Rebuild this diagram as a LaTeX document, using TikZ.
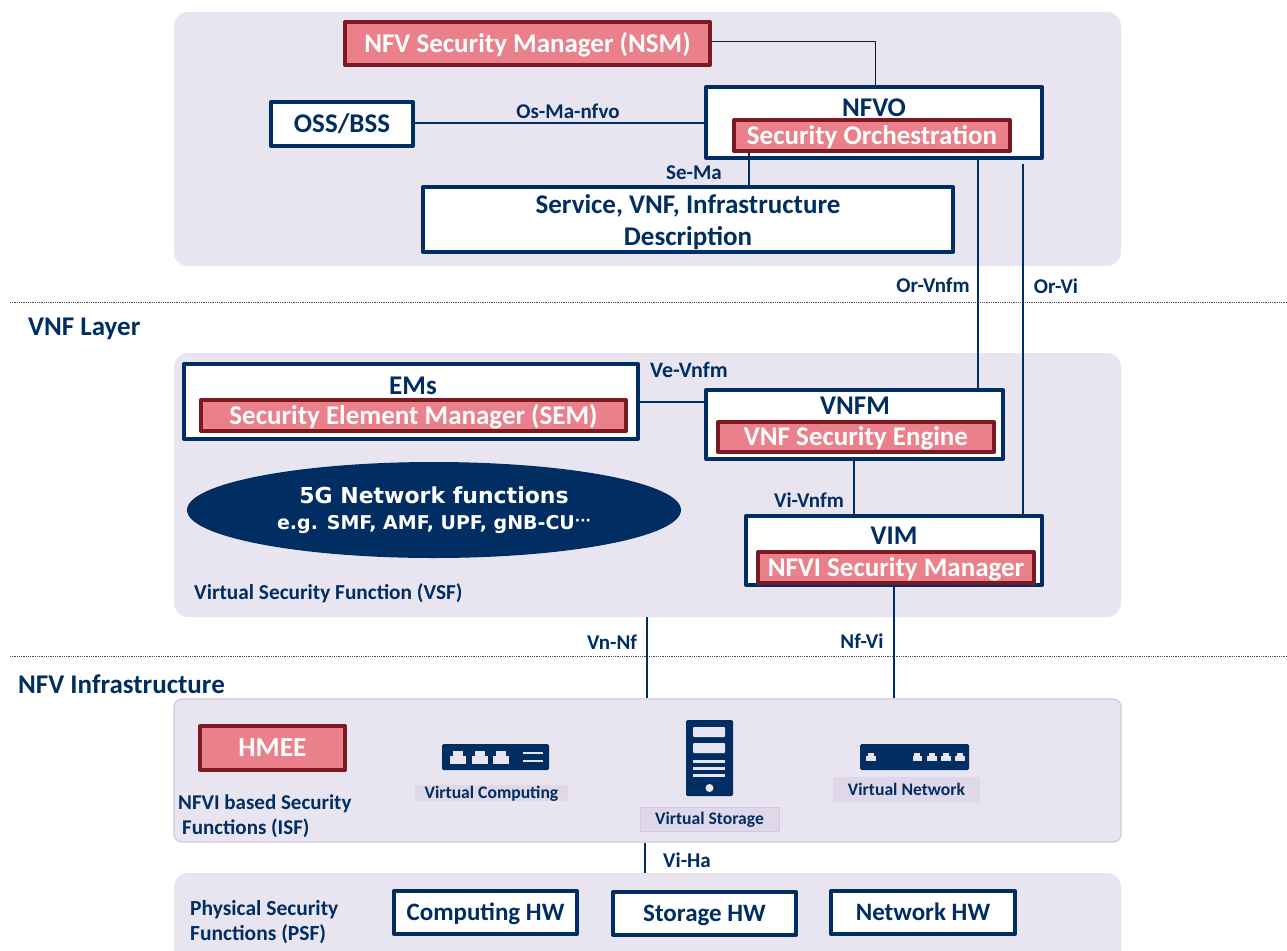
\documentclass[tikz,border=0pt]{standalone}
\usepackage{fontspec}
\setmainfont{Carlito}
\newfontfamily\dejavu{DejaVu Sans}
\usetikzlibrary{shapes.geometric,calc}
\definecolor{navy}{RGB}{0,45,98}
\definecolor{panelc}{RGB}{233,229,240}
\definecolor{panelb}{RGB}{210,200,225}
\definecolor{pinkc}{RGB}{233,128,138}
\definecolor{darkred}{RGB}{123,26,34}
\definecolor{tagc}{RGB}{223,216,232}
\newcommand{\fs}[1]{\fontsize{#1}{#1}\selectfont\bfseries}
\tikzset{
  x=1pt,y=-1pt,
  panel/.style={fill=panelc,rounded corners=14pt},
  navybox/.style={draw=navy,line width=4pt,line join=round,fill=white,text=navy,inner sep=0pt,align=center},
  redbox/.style={draw=darkred,line width=4pt,line join=round,fill=pinkc,text=white,inner sep=0pt,align=center},
  capc/.style={font=\fs{#1},text height=.64*#1 pt,text depth=0pt},
  title/.style={text=navy,inner sep=0pt,font=\fs{27},text height=17pt,text depth=0pt},
  conn/.style={draw=navy,line width=1.4pt},
  lab/.style={text=navy,font=\fs{21},inner sep=0pt},
  head/.style={text=navy,font=\fs{27},inner sep=0pt},
  tag/.style={fill=tagc,text=navy,font=\fs{17.6},inner sep=0pt,text height=11pt,text depth=0pt},
  icon/.style={fill=navy,rounded corners=1.5pt},
  sep/.style={densely dotted,line width=.8pt,draw=black!70},
}
% #1 name, #2 style, #3 x0, #4 y0, #5 x1, #6 y1, #7 text  (outer bounds)
\newcommand{\bx}[7]{\node[#2,minimum width=#5pt-#3pt-4pt,minimum height=#6pt-#4pt-4pt] (#1) at ({(#3+#5)/2},{(#4+#6)/2}) {#7};}
% x0 x1 ytop ymid ybot
\newcommand{\port}[5]{\fill[panelc] (#1,#4) rectangle (#2,#5); \fill[panelc] ({#1+.2*(#2-#1)},#3) rectangle ({#2-.2*(#2-#1)},#4);}
\begin{document}
\begin{tikzpicture}
\path[use as bounding box,fill=white] (0,0) rectangle (1287,950);
% panels
\node[panel,minimum width=947pt,minimum height=254pt,inner sep=0pt] (p1) at (647.5,139) {};
\node[panel,minimum width=947pt,minimum height=264pt,inner sep=0pt] (p2) at (647.5,485) {};
\node[panel,draw=panelb,line width=1.2pt,rounded corners=8pt,minimum width=947pt,minimum height=143pt,inner sep=0pt] (p3) at (647.5,770.5) {};
\begin{scope}
\clip (0,0) rectangle (1287,950);
\node[panel,minimum width=947pt,minimum height=110pt,inner sep=0pt] (p4) at (647.5,928) {};
\end{scope}
% separators
\coordinate (s1a) at (10,302); \coordinate (s1b) at (1287,302);
\coordinate (s2a) at (10,656); \coordinate (s2b) at (1287,656);
\draw[sep] (s1a) -- (s1b);
\draw[sep] (s2a) -- (s2b);
% boxes
\bx{nsm}{redbox,capc=27}{343}{20}{712}{67}{NFV Security Manager (NSM)}
\bx{oss}{navybox,capc=27}{269}{100}{415}{148}{OSS/BSS}
\bx{nfvo}{navybox}{704}{85}{1044}{160}{}
\node[title] (nfvot) at (874,108) {NFVO};
\bx{so}{redbox,capc=27}{732}{118}{1012}{153}{Security Orchestration}
\bx{desc}{navybox}{421}{185}{955}{254}{}
\node[title] (desc1) at (688,205) {Service, VNF, Infrastructure};
\node[title] (desc2) at (688,237) {Description};
\bx{ems}{navybox}{182}{362}{640}{441}{}
\node[title] (emst) at (413,386) {EMs};
\bx{sem}{redbox,capc=27}{199}{398}{628}{433}{Security Element Manager (SEM)}
\bx{vnfm}{navybox}{704}{388}{1005}{461}{}
\node[title] (vnfmt) at (855,406) {VNFM};
\bx{ve}{redbox,capc=27}{716}{420}{996}{454}{VNF Security Engine}
\bx{vim}{navybox}{744}{514}{1044}{587}{}
\node[title] (vimt) at (894,536) {VIM};
\bx{nsmg}{redbox,capc=27}{756}{550}{1036}{585}{NFVI Security Manager}
\node[ellipse,fill=navy,inner sep=0pt,minimum width=494pt,minimum height=96pt] (nf) at (434,510) {};
\node[text=white,inner sep=0pt,font=\dejavu\fs{22},text height=16pt,text depth=0pt] (nf1) at (434,495) {5G Network functions};
\node[text=white,inner sep=0pt,font=\dejavu\fs{19},text height=14pt,text depth=0pt] (nf2) at (434,522) {e.g. SMF, AMF, UPF, gNB-CU\raisebox{.3ex}{\fontsize{14}{14}\selectfont ···}};
\bx{hmee}{redbox,capc=27.5}{198}{724}{347}{772}{HMEE}
\bx{chw}{navybox,capc=25}{392}{889}{579}{936}{Computing HW}
\bx{shw}{navybox,capc=25}{611}{890}{798}{937}{Storage HW}
\bx{nhw}{navybox,capc=25}{829}{889}{1017}{936}{Network HW}
% connectors
\coordinate (nsmc) at (875,42);
\draw[draw=navy!70!black,line width=1pt] (nsm.east |- nsmc) -- (nsmc) -- (nsmc |- nfvo.north);
\draw[conn] (oss.east |- 0,123) -- (nfvo.west |- 0,123);
\draw[conn] (749,0 |- so.south) -- (749,0 |- desc.north);
\draw[conn] (978,0 |- nfvo.south) -- (978,0 |- vnfm.north);
\coordinate (orvi) at (1023,164);
\draw[conn] (orvi) -- (orvi |- vim.north);
\draw[conn] (ems.east |- 0,402) -- (vnfm.west |- 0,402);
\draw[conn] (854,0 |- vnfm.south) -- (854,0 |- vim.north);
\draw[conn] (647,0 |- p2.south) -- (647,0 |- p3.north);
\draw[conn] (894,0 |- vim.south) -- (894,0 |- p3.north);
\draw[conn] (645,0 |- p3.south) -- (645,0 |- p4.north);
% connector labels
\node[lab] (l1) at (568,111) {Os-Ma-nfvo};
\node[lab] (l2) at (694,173) {Se-Ma};
\node[lab] (l3) at (933,285) {Or-Vnfm};
\node[lab] (l4) at (1056,286) {Or-Vi};
\node[lab,font=\fs{22}] (l5) at (689,370) {Ve-Vnfm};
\node[lab] (l6) at (809,500) {Vi-Vnfm};
\node[lab] (l7) at (612,642) {Vn-Nf};
\node[lab] (l8) at (862,641) {Nf-Vi};
\node[lab] (l9) at (687,860) {Vi-Ha};
% headings
\node[head,anchor=west] (h1) at (28,329) {VNF Layer};
\node[head,anchor=west] (h2) at (18,684) {NFV Infrastructure};
\node[lab,font=\fs{21.3},anchor=west] (h3) at (194,593) {Virtual Security Function (VSF)};
\node[lab,font=\fs{21},anchor=north west,align=left] (h4) at (178,794.5) {NFVI based Security\\[4pt]\hspace*{4pt}Functions (ISF)};
\node[lab,font=\fs{21.5},anchor=north west,align=left] (h5) at (190,900) {Physical Security\\[4pt]Functions (PSF)};
% tags
\node[tag,minimum width=153pt,minimum height=16pt] (tc) at (491.5,793) {Virtual Computing};
\node[tag,minimum width=147pt,minimum height=26pt] (tn) at (906.5,790) {Virtual Network};
\node[tag,draw=panelb,line width=.8pt,minimum width=139pt,minimum height=24pt] (ts) at (709.5,819) {Virtual Storage};
% computing icon
\fill[icon] (442,744) rectangle (549,770);
\port{450}{466}{751}{756}{764}\port{472}{488}{751}{756}{764}\port{493}{509}{751}{756}{764}
\fill[panelc] (523,751.7) rectangle (543,753.9);
\fill[panelc] (523,759.7) rectangle (543,761.9);
% storage icon
\fill[icon] (686,720) rectangle (733,796);
\fill[panelc,rounded corners=1pt] (693,727) rectangle (725,737);
\fill[panelc,rounded corners=1pt] (693,743) rectangle (725,753);
\fill[panelc] (693,760) rectangle (725,763);
\fill[panelc] (693,767) rectangle (725,770);
\fill[panelc] (693,774) rectangle (725,777);
\fill[panelc] (709.5,788) circle (4pt);
% network icon
\fill[icon] (860,744) rectangle (969,770);
\port{866}{875.5}{753}{756}{761}\port{912.5}{922}{753}{756}{761}\port{927}{936.5}{753}{756}{761}\port{941}{951}{753}{756}{761}\port{955}{965}{753}{756}{761}
\end{tikzpicture}
\end{document}
